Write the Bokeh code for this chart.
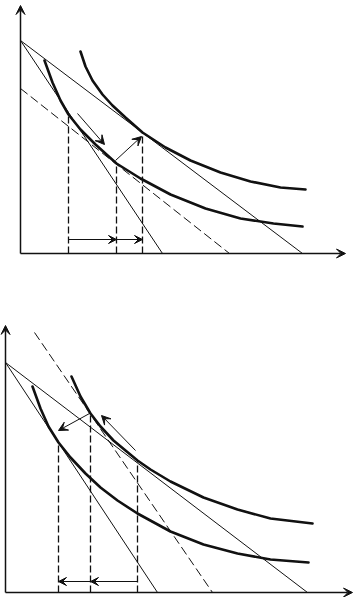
from bokeh.plotting import figure
from bokeh.models import Range1d, Arrow, VeeHead
from bokeh.layouts import column
from bokeh.embed import file_html
from bokeh.resources import INLINE

# ---------------- Panel 1 (price fall: substitution + income effect) ----------------
p1_axis_x_end = 325
p1_axis_y_end = 248
p1_budget_steep = {"x": [0, 142], "y": [213, 0]}
p1_budget_flat = {"x": [0, 282], "y": [213, 0]}
p1_budget_comp = {"x": [0, 209], "y": [165, 0]}
p1_ic_high_x = [60, 65, 72, 82, 92, 105, 122, 145, 170, 200, 230, 260, 285]
p1_ic_high_y = [202, 187, 173, 159, 148, 136, 121, 106, 93, 81, 72, 66, 64]
p1_ic_low_x = [24, 32, 40, 48, 60, 75, 96, 120, 150, 185, 220, 253, 282]
p1_ic_low_y = [193, 171, 153, 139, 124, 109, 90, 75, 59, 45, 35, 30, 27]
p1_drop_x = [48, 96, 122]
p1_drop_top = [139, 90, 121]
p1_effect_y = 14
p1_effect_from = [48, 96]
p1_effect_to = [96, 122]
p1_move_arrows = [((57, 140), (84, 109)), ((95, 93), (121, 117))]

# ---------------- Panel 2 (price rise) ----------------
p2_axis_x_end = 347
p2_axis_y_end = 267
p2_budget_steep = {"x": [0, 152], "y": [230, 0]}
p2_budget_flat = {"x": [0, 302], "y": [230, 0]}
p2_budget_comp = {"x": [29, 207], "y": [260, 0]}
p2_ic_high_x = [66, 75, 85, 95, 108, 120, 132, 145, 165, 198, 232, 265, 307]
p2_ic_high_y = [216, 196, 179, 166, 152, 142, 132, 123, 111, 95, 83, 74, 69]
p2_ic_low_x = [27, 35, 43, 53, 65, 80, 95, 112, 132, 165, 198, 232, 265, 303]
p2_ic_low_y = [206, 184, 166, 150, 135, 119, 105, 92, 79, 61, 48, 39, 33, 30]
p2_drop_x = [53, 85, 132]
p2_drop_top = [150, 179, 132]
p2_effect_y = 11
p2_effect_from = [132, 85]
p2_effect_to = [85, 53]
p2_move_arrows = [((84, 179), (53, 162)), ((130, 142), (96, 177))]

INK = "#111111"


def head(size=8):
    return VeeHead(size=size, fill_color=INK, line_color=INK, line_width=1)


def make_panel(h, xr, yr, ax_x, ax_y, steep, flat, comp, hx, hy, lx, ly,
               drop_x, drop_top, eff_y, eff_from, eff_to, moves):
    p = figure(width=358, height=h, x_range=Range1d(*xr), y_range=Range1d(*yr),
               output_backend="svg", toolbar_location=None,
               x_axis_location=None, y_axis_location=None,
               min_border=0, min_border_left=0, min_border_right=0,
               min_border_top=0, min_border_bottom=0)
    p.outline_line_color = None
    p.grid.visible = False
    p.background_fill_color = "white"
    p.border_fill_color = "white"

    # axes
    p.add_layout(Arrow(end=head(9), x_start=0, y_start=0, x_end=0, y_end=ax_y,
                       line_color=INK, line_width=1.5))
    p.add_layout(Arrow(end=head(9), x_start=0, y_start=0, x_end=ax_x, y_end=0,
                       line_color=INK, line_width=1.5))

    # budget lines
    p.line(steep["x"], steep["y"], line_color=INK, line_width=1)
    p.line(flat["x"], flat["y"], line_color=INK, line_width=1)
    p.line(comp["x"], comp["y"], line_color=INK, line_width=1, line_dash="9 4")

    # indifference curves
    p.line(hx, hy, line_color=INK, line_width=2.6, line_join="round", line_cap="round")
    p.line(lx, ly, line_color=INK, line_width=2.6, line_join="round", line_cap="round")

    # drop lines
    p.segment(x0=drop_x, y0=[0] * len(drop_x), x1=drop_x, y1=drop_top,
              line_color=INK, line_width=1.3, line_dash="7 3")

    # effect arrows on the x axis
    for a, b in zip(eff_from, eff_to):
        p.add_layout(Arrow(end=head(8), x_start=a, y_start=eff_y, x_end=b, y_end=eff_y,
                           line_color=INK, line_width=1))

    # movement arrows
    for (s, e) in moves:
        p.add_layout(Arrow(end=head(9), x_start=s[0], y_start=s[1], x_end=e[0], y_end=e[1],
                           line_color=INK, line_width=1))
    return p


p1 = make_panel(300, (-20, 338), (-47, 253), p1_axis_x_end, p1_axis_y_end,
                p1_budget_steep, p1_budget_flat, p1_budget_comp,
                p1_ic_high_x, p1_ic_high_y, p1_ic_low_x, p1_ic_low_y,
                p1_drop_x, p1_drop_top, p1_effect_y, p1_effect_from, p1_effect_to,
                p1_move_arrows)

p2 = make_panel(297, (-5, 353), (-5, 292), p2_axis_x_end, p2_axis_y_end,
                p2_budget_steep, p2_budget_flat, p2_budget_comp,
                p2_ic_high_x, p2_ic_high_y, p2_ic_low_x, p2_ic_low_y,
                p2_drop_x, p2_drop_top, p2_effect_y, p2_effect_from, p2_effect_to,
                p2_move_arrows)

layout = column(p1, p2, spacing=0)
open("out.html", "w").write(file_html(layout, INLINE))
